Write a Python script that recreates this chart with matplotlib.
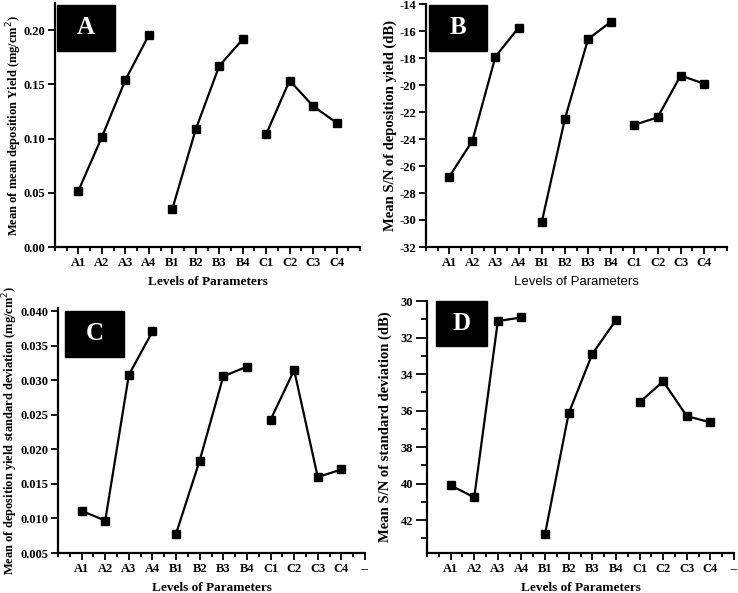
import numpy as np
import matplotlib
matplotlib.use('Agg')
import matplotlib.pyplot as plt
from matplotlib.patches import Rectangle
from matplotlib.ticker import MultipleLocator

plt.rcParams['font.family'] = ['Liberation Serif', 'DejaVu Serif']
plt.rcParams['axes.unicode_minus'] = False

levels = ['A1', 'A2', 'A3', 'A4', 'B1', 'B2', 'B3', 'B4', 'C1', 'C2', 'C3', 'C4']

# panel A: mean of mean deposition yield
mean_yield = [0.052, 0.1015, 0.154, 0.1955, 0.035, 0.1085, 0.167, 0.1915,
              0.104, 0.1535, 0.130, 0.1145]
# panel B: S/N of deposition yield
sn_yield = [-26.8, -24.15, -17.9, -15.75, -30.15, -22.5, -16.6, -15.3,
            -22.95, -22.4, -19.3, -19.9]
# panel C: mean of yield standard deviation
mean_sd = [0.0111, 0.0097, 0.0308, 0.0371, 0.0078, 0.0184, 0.0306, 0.0320,
           0.0243, 0.0315, 0.0160, 0.0171]
# panel D: S/N of standard deviation
sn_sd = [40.1, 40.75, 31.1, 30.9, 42.75, 36.15, 32.9, 31.05,
         35.55, 34.4, 36.3, 36.65]

W, H = 738, 593
fig = plt.figure(figsize=(W / 100, H / 100), dpi=100)


def add_axes(l, t, r, b):
    return fig.add_axes([l / W, (H - b) / H, (r - l) / W, (b - t) / H])


def label_box(l, t, r, b, letter):
    fig.patches.append(Rectangle((l / W, (H - b) / H), (r - l) / W, (b - t) / H,
                                 transform=fig.transFigure, facecolor='black',
                                 edgecolor='black', zorder=5))
    fig.text((l + r) / 2 / W, (H - (t + b) / 2) / H, letter, color='white',
             fontsize=18, fontweight='bold', ha='center', va='center', zorder=6)


def bold_ticks(ax):
    for lab in ax.get_xticklabels() + ax.get_yticklabels():
        lab.set_fontweight('bold')


def panel(ax, vals, ylabel, ylsize, dash=False, xlabel_bold=True,
          ylen=5, ylpad=0, yminor=3):
    x = np.arange(1, 13)
    for g in range(3):
        sl = slice(4 * g, 4 * g + 4)
        ax.plot(x[sl], vals[sl], 'k-', lw=1.6, marker='s', ms=6, mec='k', mfc='k')
    ax.set_xlim(0, 13)
    ticks = list(x) + ([13] if dash else [])
    ax.set_xticks(ticks)
    ax.set_xticklabels(levels + (['--'] if dash else []))
    ax.xaxis.set_minor_locator(MultipleLocator(0.5))
    for s in ['top', 'right']:
        ax.spines[s].set_visible(False)
    for s in ['left', 'bottom']:
        ax.spines[s].set_linewidth(1.6)
    ax.tick_params(which='both', direction='out', width=1.3, labelsize=9)
    ax.tick_params(axis='x', which='major', length=5, pad=2)
    ax.tick_params(axis='x', which='minor', length=3)
    ax.tick_params(axis='y', which='major', length=ylen, pad=2)
    ax.tick_params(axis='y', which='minor', length=yminor)
    ax.set_ylabel(ylabel, fontsize=ylsize, fontweight='bold', labelpad=ylpad)
    if xlabel_bold:
        ax.set_xlabel('Levels of Parameters', fontsize=9.5, fontweight='bold', labelpad=5)
    else:
        ax.set_xlabel('Levels of Parameters', fontsize=9.5, family='Liberation Sans',
                      labelpad=5)


axA = add_axes(55, 3, 360, 247)
panel(axA, mean_yield, 'Mean of mean deposition Yield (mg/cm$^{2}$)', 9)
axA.set_ylim(0, 0.225)
axA.set_yticks([0, 0.05, 0.10, 0.15, 0.20])
axA.set_yticklabels(['0.00', '0.05', '0.10', '0.15', '0.20'])
bold_ticks(axA)

axB = add_axes(426, 4, 727, 247)
panel(axB, sn_yield, 'Mean S/N of deposition yield (dB)', 10.5, xlabel_bold=False, ylpad=2)
axB.set_ylim(-32, -14)
axB.set_yticks(np.arange(-32, -13, 2))
bold_ticks(axB)

axC = add_axes(58, 308, 365, 553)
panel(axC, mean_sd, 'Mean of deposition yield standard deviation (mg/cm$^{2}$)', 9, dash=True)
axC.set_ylim(0.005, 0.0405)
yc = np.arange(0.005, 0.0401, 0.005)
axC.set_yticks(yc)
axC.set_yticklabels(['%.3f' % v for v in yc])
bold_ticks(axC)

axD = add_axes(427, 301, 734, 553)
panel(axD, sn_sd, 'Mean S/N of standard deviation (dB)', 10.5, dash=True,
      ylen=8, ylpad=6, yminor=4)
axD.set_ylim(43.8, 30)
axD.set_yticks(np.arange(30, 43, 2))
axD.yaxis.set_minor_locator(MultipleLocator(1))
bold_ticks(axD)

label_box(57, 5, 115, 51, 'A')
label_box(429, 5, 487, 51, 'B')
label_box(65, 311, 124, 357, 'C')
label_box(436, 301, 487, 346, 'D')

fig.savefig('out.png', dpi=100)
